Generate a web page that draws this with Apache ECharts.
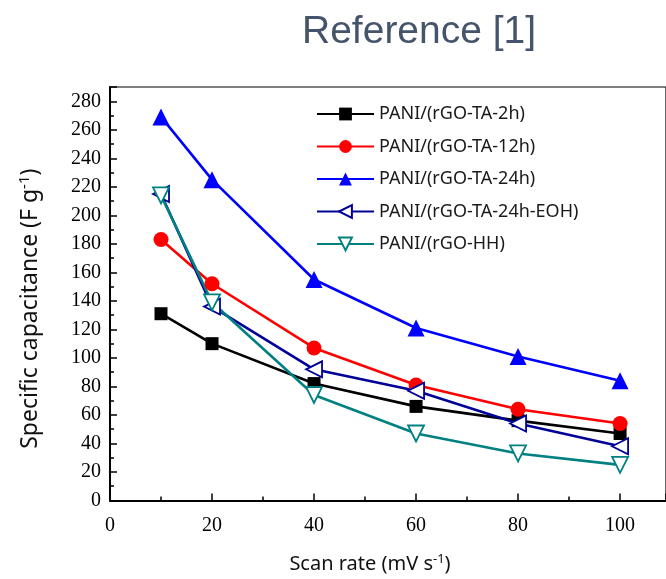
<!DOCTYPE html>
<html>
<head>
<meta charset="utf-8">
<script src="https://cdn.jsdelivr.net/npm/echarts@6/dist/echarts.min.js"></script>
<style>
  html, body { margin: 0; padding: 0; background: #fff; }
  #chart { width: 666px; height: 579px; }
</style>
</head>
<body>
<div id="chart"></div>
<script>
// scan rates (mV s-1) and specific capacitance (F g-1)
const scanRates = [10, 20, 40, 60, 80, 100];
const ta2h      = [131, 110, 82, 66, 56, 47];
const ta12h     = [183, 152, 107, 81, 64, 54];
const ta24h     = [269, 225, 155, 121, 101, 84];
const ta24hEoh  = [215, 136, 92, 77, 54, 38];
const hh        = [214, 139, 74, 47, 33, 25];

const names = ['PANI/(rGO-TA-2h)', 'PANI/(rGO-TA-12h)', 'PANI/(rGO-TA-24h)', 'PANI/(rGO-TA-24h-EOH)', 'PANI/(rGO-HH)'];

const SERIF = '"Liberation Serif", "DejaVu Serif", serif';
const SANS = '"Noto Sans", "Open Sans", sans-serif';

const pairs = arr => scanRates.map((x, i) => [x, arr[i]]);

function line(name, data, color, symbol, opts = {}) {
  return {
    name, type: 'line', data: pairs(data),
    lineStyle: { color, width: 2.6 },
    itemStyle: { color: opts.hollow ? '#fff' : color, borderColor: color, borderWidth: opts.hollow ? 1.8 : 0 },
    symbol, symbolSize: opts.size || 14, symbolRotate: opts.rotate || 0,
    showAllSymbol: true, animation: false,
  };
}

const c = echarts.init(document.getElementById('chart'), null, { renderer: 'canvas' });
c.setOption({
  animation: false,
  title: {
    text: 'Reference [1]',
    left: 297, top: 8,
    textStyle: { color: '#44546a', fontFamily: '"Liberation Sans", Arial, sans-serif', fontSize: 39, fontWeight: 'normal' },
  },
  grid: { left: 110, right: 0, top: 87, bottom: 78, show: true, borderColor: '#000', borderWidth: 1.2 },
  legend: {
    orient: 'vertical', left: 311, top: 100,
    itemWidth: 57, itemHeight: 16, itemGap: 14.5,
    textStyle: { color: '#1a1a1a', fontFamily: SANS, fontSize: 18 },
    data: names,
  },
  xAxis: {
    type: 'value', min: 0, max: 109, interval: 20,
    name: 'Scan rate (mV s{sup|-1})', nameLocation: 'middle', nameGap: 52, nameMoveOverlap: false,
    nameTextStyle: {
      color: '#111', fontFamily: SANS, fontSize: 20, padding: [0, 36, 0, 0],
      rich: { sup: { fontSize: 13, verticalAlign: 'top', padding: [0, 0, 10, 0], fontFamily: SANS, color: '#111' } },
    },
    axisLine: { lineStyle: { color: '#000', width: 2 } },
    axisTick: { inside: true, length: 7, lineStyle: { color: '#000', width: 1.5 } },
    minorTick: { show: true, splitNumber: 2, length: 4, lineStyle: { color: '#000', width: 1.5 } },
    axisLabel: { color: '#000', fontFamily: SERIF, fontSize: 20, margin: 15, showMaxLabel: false },
    splitLine: { show: false },
  },
  yAxis: {
    type: 'value', min: 0, max: 290, interval: 20,
    name: 'Specific capacitance (F g{sup|-1})', nameLocation: 'middle', nameGap: 67, nameRotate: 90,
    nameTextStyle: {
      color: '#111', fontFamily: SANS, fontSize: 23, padding: [0, 30, 0, 0],
      rich: { sup: { fontSize: 15, verticalAlign: 'top', padding: [0, 0, 11, 0], fontFamily: SANS, color: '#111' } },
    },
    axisLine: { lineStyle: { color: '#000', width: 2 } },
    axisTick: { inside: true, length: 7, lineStyle: { color: '#000', width: 1.5 } },
    minorTick: { show: true, splitNumber: 2, length: 4, lineStyle: { color: '#000', width: 1.5 } },
    axisLabel: { color: '#000', fontFamily: SERIF, fontSize: 20, margin: 9, showMaxLabel: false },
    splitLine: { show: false },
  },
  series: [
    line(names[0], ta2h, '#000000', 'rect', { size: 13 }),
    line(names[1], ta12h, '#ff0000', 'circle', { size: 15 }),
    line(names[2], ta24h, '#0000ff', 'triangle', { size: 17 }),
    line(names[3], ta24hEoh, '#000099', 'triangle', { size: 16, rotate: 90, hollow: true }),
    line(names[4], hh, '#008080', 'triangle', { size: 16, rotate: 180, hollow: true }),
  ],
});
</script>
</body>
</html>
